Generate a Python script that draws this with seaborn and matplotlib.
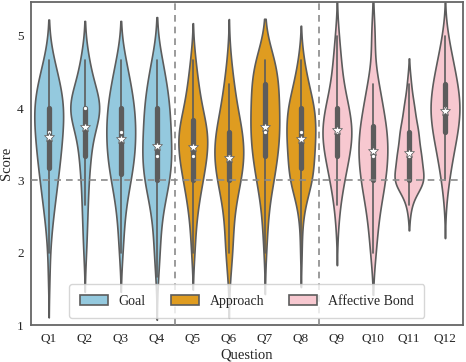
import numpy as np
import pandas as pd
import seaborn as sns
import matplotlib
matplotlib.use("Agg")
import matplotlib.pyplot as plt

# Score levels (averages in steps of 1/3) and how many answers fall on each level
levels = [1, 4/3, 5/3, 2, 7/3, 8/3, 3, 10/3, 11/3, 4, 13/3, 14/3, 5]

questions = ["Q1", "Q2", "Q3", "Q4", "Q5", "Q6", "Q7", "Q8", "Q9", "Q10", "Q11", "Q12"]
question_groups = ["Goal"] * 4 + ["Approach"] * 4 + ["Affective Bond"] * 4
group_names = ["Goal", "Approach", "Affective Bond"]
group_colors = ["skyblue", "orange", "pink"]

#            1  1.3 1.7 2  2.3 2.7 3  3.3 3.7 4  4.3 4.7 5
counts_q1  = [0, 0, 1, 1, 3, 6, 9, 12, 14, 16, 12, 5, 0]
counts_q2  = [0, 0, 0, 2, 3, 4, 5, 8, 10, 28, 11, 6, 0]
counts_q3  = [0, 0, 0, 2, 3, 5, 10, 14, 15, 14, 10, 5, 0]
counts_q4  = [0, 0, 1, 3, 3, 6, 12, 14, 12, 12, 9, 5, 0]
counts_q5  = [0, 0, 0, 2, 3, 6, 11, 16, 18, 10, 6, 3, 0]
counts_q6  = [0, 0, 1, 4, 4, 6, 12, 16, 14, 8, 5, 2, 0]
counts_q7  = [0, 0, 0, 1, 2, 3, 7, 10, 12, 11, 11, 9, 0]
counts_q8  = [0, 0, 0, 1, 1, 4, 13, 14, 16, 15, 8, 3, 0]
counts_q9  = [0, 0, 0, 0, 1, 3, 7, 12, 16, 12, 6, 4, 2]
counts_q10 = [0, 0, 0, 3, 4, 7, 12, 14, 14, 9, 6, 0, 3]
counts_q11 = [0, 0, 0, 0, 0, 3, 24, 18, 14, 8, 3, 0, 0]
counts_q12 = [0, 0, 0, 0, 0, 1, 4, 8, 13, 16, 13, 8, 3]

all_counts = [counts_q1, counts_q2, counts_q3, counts_q4, counts_q5, counts_q6,
              counts_q7, counts_q8, counts_q9, counts_q10, counts_q11, counts_q12]

rows = []
for q, g, cnt in zip(questions, question_groups, all_counts):
    vals = np.repeat(levels, cnt)
    for v in vals:
        rows.append((q, g, float(v)))
df = pd.DataFrame(rows, columns=["Question", "Group", "Score"])

sns.set_theme(style="white")
plt.rcParams["font.family"] = ["Liberation Serif", "DejaVu Serif"]

fig, ax = plt.subplots(figsize=(4.66, 3.62), dpi=100)
fig.subplots_adjust(left=30.7 / 466, right=463 / 466, top=1 - 2 / 362, bottom=1 - 325 / 362)

line_gray = "#5c5c5c"
sns.violinplot(data=df, x="Question", y="Score", hue="Group", order=questions,
               hue_order=group_names, palette=group_colors, dodge=False,
               inner="box", density_norm="width", linewidth=1.2, linecolor=line_gray,
               inner_kws=dict(box_width=3.8, whis_width=1.2, marker="."), ax=ax)

sns.pointplot(data=df, x="Question", y="Score", order=questions, estimator="mean",
              errorbar=None, linestyle="none", marker="*", markersize=7.5,
              color="white", markeredgecolor=line_gray, markeredgewidth=0.5,
              legend=False, ax=ax)

ax.axhline(3, color="#8a8a8a", ls="--", lw=1.2, dashes=(4, 3), zorder=5)
ax.axvline(3.5, color="#8a8a8a", ls="--", lw=1.2, dashes=(4, 3), zorder=5)
ax.axvline(7.5, color="#8a8a8a", ls="--", lw=1.2, dashes=(4, 3), zorder=5)

ax.set_xlim(-0.5, 11.5)
ax.set_ylim(1, 5.47)
ax.set_yticks([1, 2, 3, 4, 5])
ax.set_xlabel("Question", fontsize=10.5, labelpad=2)
ax.set_ylabel("Score", fontsize=10.5, labelpad=3)
ax.tick_params(axis="x", labelsize=9.5, length=0, pad=6)
ax.tick_params(axis="y", labelsize=9.5, length=0, pad=5)
for s in ax.spines.values():
    s.set_color("#666666")
    s.set_linewidth(1.3)

sns.move_legend(ax, "lower center", ncol=3, title=None, frameon=True, fontsize=10,
                borderpad=0.75, columnspacing=1.8)

fig.savefig("out.png", dpi=100)
